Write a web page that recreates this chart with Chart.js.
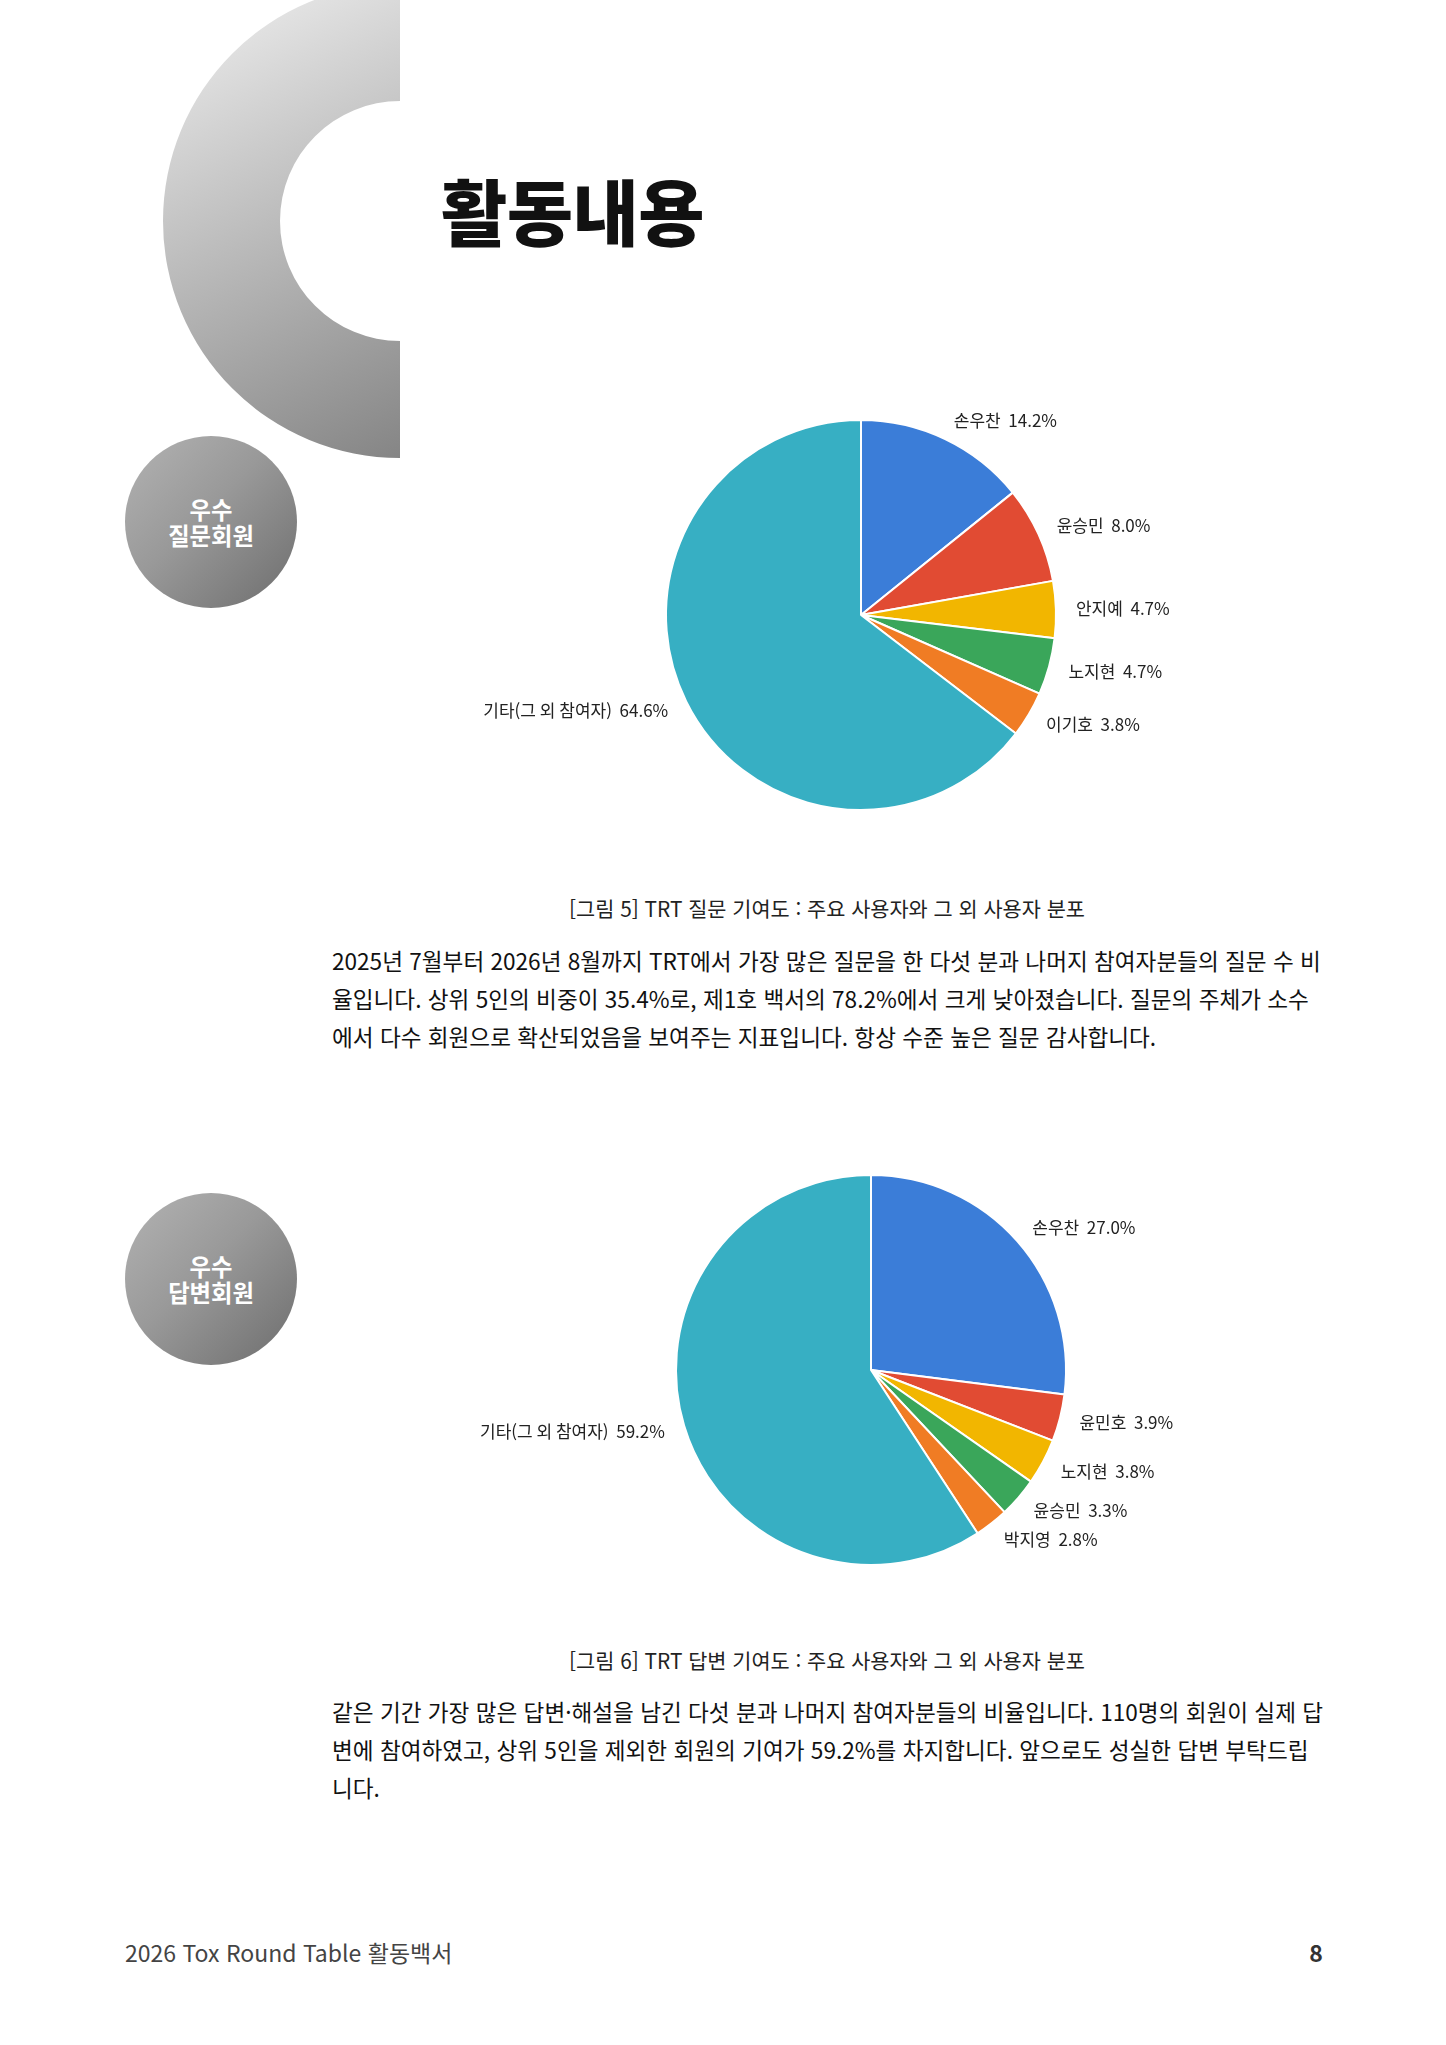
<!DOCTYPE html>
<html lang="ko">
<head>
<meta charset="utf-8">
<script src="https://cdn.jsdelivr.net/npm/chart.js@4.4.1/dist/chart.umd.min.js"></script>
<style>
  html, body { margin: 0; padding: 0; background: #fff; }
  body { width: 1446px; height: 2045px; position: relative; overflow: hidden;
         font-family: "Noto Sans CJK KR", "Noto Sans", sans-serif; color: #111; }
  .abs { position: absolute; }
  .title { left: 441px; top: 160px; font-size: 72px; font-weight: 900; letter-spacing: -0.5px; line-height: 98px; color: #111; white-space: nowrap; }
  .badge { width: 172px; height: 172px; border-radius: 50%;
           background: linear-gradient(135deg, #b3b3b3 0%, #999 45%, #6d6d6d 100%);
           color: #fff; font-weight: 700; font-size: 23.3px; line-height: 26px;
           display: flex; align-items: center; justify-content: center; text-align: center; }
  .caption { left: 0; width: 1654px; text-align: center; font-size: 20.8px; color: #222; white-space: nowrap; }
  .para { left: 332px; font-size: 22.6px; line-height: 38px; color: #111; white-space: nowrap; }
  .footer { left: 125px; top: 1935px; font-size: 23px; color: #444; white-space: nowrap; line-height: 34px; }
  .pagenum { left: 1300px; top: 1935px; width: 32px; text-align: center; font-size: 23px; font-weight: 700; color: #333; line-height: 34px; }
  canvas { display: block; }
</style>
</head>
<body>
<svg class="abs" style="left:0;top:0" width="460" height="470">
  <defs>
    <linearGradient id="cg" x1="163" y1="-16" x2="400" y2="458" gradientUnits="userSpaceOnUse">
      <stop offset="0" stop-color="#f2f2f2"/>
      <stop offset="1" stop-color="#858585"/>
    </linearGradient>
  </defs>
  <path d="M400,-16 A237,237 0 0 0 400,458 L400,341 A120,120 0 0 1 400,101 Z" fill="url(#cg)"/>
</svg>

<div class="abs title">활동내용</div>

<div class="abs badge" style="left:125px;top:436px;"><div>우수<br>질문회원</div></div>
<div class="abs badge" style="left:125px;top:1193px;"><div>우수<br>답변회원</div></div>

<div class="abs" style="left:461px;top:385px;width:800px;height:460px;"><canvas id="pie1"></canvas></div>
<div class="abs" style="left:471px;top:1140px;width:800px;height:460px;"><canvas id="pie2"></canvas></div>

<div class="abs caption" style="top:893px;">[그림 5] TRT 질문 기여도 : 주요 사용자와 그 외 사용자 분포</div>
<div class="abs para" style="top:942px;">2025년 7월부터 2026년 8월까지 TRT에서 가장 많은 질문을 한 다섯 분과 나머지 참여자분들의 질문 수 비<br>율입니다. 상위 5인의 비중이 35.4%로, 제1호 백서의 78.2%에서 크게 낮아졌습니다. 질문의 주체가 소수<br>에서 다수 회원으로 확산되었음을 보여주는 지표입니다. 항상 수준 높은 질문 감사합니다.</div>

<div class="abs caption" style="top:1645px;">[그림 6] TRT 답변 기여도 : 주요 사용자와 그 외 사용자 분포</div>
<div class="abs para" style="top:1693px;">같은 기간 가장 많은 답변·해설을 남긴 다섯 분과 나머지 참여자분들의 비율입니다. 110명의 회원이 실제 답<br>변에 참여하였고, 상위 5인을 제외한 회원의 기여가 59.2%를 차지합니다. 앞으로도 성실한 답변 부탁드립<br>니다.</div>

<div class="abs footer">2026 Tox Round Table 활동백서</div>
<div class="abs pagenum">8</div>

<script>
// ---- data ----
const questionLabels = ["손우찬", "윤승민", "안지예", "노지현", "이기호", "기타(그 외 참여자)"];
const questionValues = [14.2, 8.0, 4.7, 4.7, 3.8, 64.6];
const answerLabels = ["손우찬", "윤민호", "노지현", "윤승민", "박지영", "기타(그 외 참여자)"];
const answerValues = [27.0, 3.9, 3.8, 3.3, 2.8, 59.2];
const sliceColors = ["#3b7dd8", "#e14b33", "#f2b600", "#3aa65a", "#f07c24", "#37afc3"];

// ---- outside labels plugin ----
const outsideLabels = {
  id: "outsideLabels",
  afterDatasetsDraw(chart, args, opts) {
    const ctx = chart.ctx;
    const meta = chart.getDatasetMeta(0);
    const data = chart.data.datasets[0].data;
    const labels = chart.data.labels;
    ctx.save();
    ctx.font = opts.font;
    ctx.fillStyle = opts.color;
    ctx.textBaseline = "middle";
    meta.data.forEach((arc, i) => {
      const p = arc.getProps(["x", "y", "startAngle", "endAngle", "outerRadius"], true);
      const mid = (p.startAngle + p.endAngle) / 2;
      const r = p.outerRadius + opts.offset;
      const x = p.x + r * Math.cos(mid);
      const y = p.y + r * Math.sin(mid);
      ctx.textAlign = Math.cos(mid) >= -0.001 ? "left" : "right";
      ctx.fillText(labels[i] + "  " + data[i].toFixed(1) + "%", x, y);
    });
    ctx.restore();
  }
};

function makePie(id, labels, values) {
  return new Chart(document.getElementById(id), {
    type: "pie",
    data: {
      labels: labels,
      datasets: [{
        data: values,
        backgroundColor: sliceColors,
        borderColor: "#ffffff",
        borderWidth: 2
      }]
    },
    options: {
      responsive: true,
      maintainAspectRatio: false,
      animation: false,
      radius: 195,
      layout: { padding: 0 },
      plugins: {
        legend: { display: false },
        tooltip: { enabled: false },
        outsideLabels: { font: '17px "Noto Sans CJK KR", sans-serif', color: "#222", offset: 20 }
      }
    },
    plugins: [outsideLabels]
  });
}
makePie("pie1", questionLabels, questionValues);
makePie("pie2", answerLabels, answerValues);
</script>
</body>
</html>
